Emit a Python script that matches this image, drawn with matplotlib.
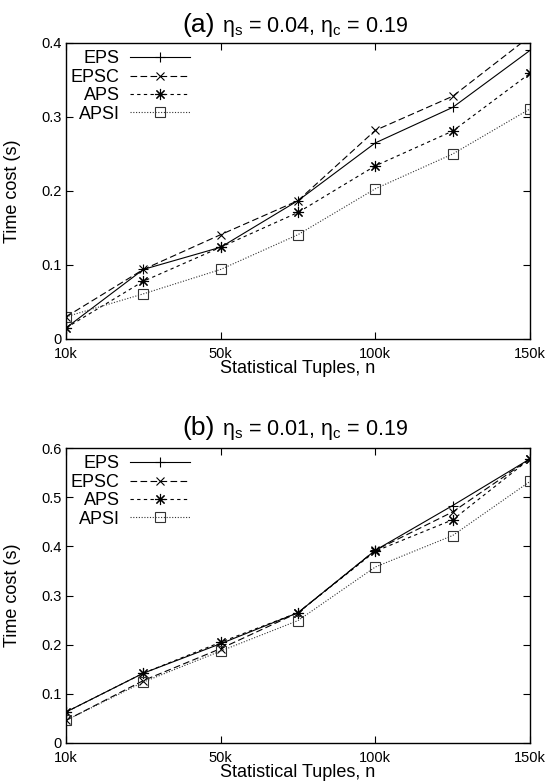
import numpy as np
import matplotlib
matplotlib.use("Agg")
import matplotlib.pyplot as plt
from matplotlib.ticker import FuncFormatter

plt.rcParams["font.family"] = ["Liberation Sans", "DejaVu Sans"]
plt.rcParams["mathtext.fontset"] = "custom"
plt.rcParams["mathtext.rm"] = "Liberation Sans"
plt.rcParams["mathtext.it"] = "Liberation Sans"

# x axis: positions of the measured sizes (first point sits on the "10k" tick)
n_pos = [0, 25, 50, 75, 100, 125, 150]
xtick_pos = [0, 50, 100, 150]
xtick_labels = ["10k", "50k", "100k", "150k"]

series_names = ["EPS", "EPSC", "APS", "APSI"]

# (a) eta_s = 0.04, eta_c = 0.19
eps_a = [0.015, 0.094, 0.124, 0.187, 0.265, 0.313, 0.390]
epsc_a = [0.030, 0.094, 0.141, 0.187, 0.282, 0.328, 0.409]
aps_a = [0.015, 0.078, 0.124, 0.171, 0.234, 0.281, 0.359]
apsi_a = [0.030, 0.061, 0.094, 0.141, 0.203, 0.250, 0.311]

# (b) eta_s = 0.01, eta_c = 0.19
eps_b = [0.063, 0.142, 0.202, 0.265, 0.392, 0.483, 0.578]
epsc_b = [0.046, 0.127, 0.192, 0.265, 0.392, 0.470, 0.578]
aps_b = [0.063, 0.142, 0.205, 0.265, 0.390, 0.454, 0.578]
apsi_b = [0.046, 0.124, 0.187, 0.249, 0.358, 0.422, 0.532]

styles = [
    dict(color="black", linestyle="-", marker="+", markersize=7),
    dict(color="black", linestyle=(0, (6, 3)), marker="x", markersize=6),
    dict(color="black", linestyle=(0, (3, 3)), marker=(8, 2, 0), markersize=8),
    dict(color="#333333", linestyle=(0, (1, 1.5)), marker="s", markersize=6.5,
         fillstyle="none"),
]

W, H = 547, 782
fig = plt.figure(figsize=(W / 100, H / 100), dpi=100)

panels = [
    dict(rect=[66 / W, 1 - 339 / H, 464 / W, 296 / H], data=[eps_a, epsc_a, aps_a, apsi_a],
         ymax=0.4, tag="(a)", rest=r"$\mathrm{\eta_s}$ = 0.04, $\mathrm{\eta_c}$ = 0.19", ty=1.037),
    dict(rect=[66 / W, 1 - 743 / H, 464 / W, 295 / H], data=[eps_b, epsc_b, aps_b, apsi_b],
         ymax=0.6, tag="(b)", rest=r"$\mathrm{\eta_s}$ = 0.01, $\mathrm{\eta_c}$ = 0.19", ty=1.045),
]

for p in panels:
    ax = fig.add_axes(p["rect"])
    for name, vals, st in zip(series_names, p["data"], styles):
        ax.plot(n_pos, vals, label=name, linewidth=0.8, markeredgewidth=0.8, **st)
    ax.set_xlim(0, 150)
    ax.set_ylim(0, p["ymax"])
    ax.set_xticks(xtick_pos)
    ax.set_xticklabels(xtick_labels)
    ax.set_yticks(np.arange(0, p["ymax"] + 0.001, 0.1))
    ax.yaxis.set_major_formatter(FuncFormatter(lambda v, _: "0" if abs(v) < 1e-9 else f"{v:.1f}"))
    ax.tick_params(direction="in", top=True, right=True, length=5, width=0.8,
                   labelsize=10.5, pad=3)
    ax.tick_params(axis="x", pad=6)
    for s in ax.spines.values():
        s.set_linewidth(1.0)
    ax.set_xlabel("Statistical Tuples, n", fontsize=13, labelpad=-1)
    ax.set_ylabel("Time cost (s)", fontsize=13)
    ax.yaxis.set_label_coords(-0.097, 0.5)
    ax.text(0.32, p["ty"], p["tag"], transform=ax.transAxes, ha="right",
            va="baseline", fontsize=19)
    ax.text(0.337, p["ty"], p["rest"], transform=ax.transAxes, ha="left",
            va="baseline", fontsize=15.5)
    ax.legend(loc="upper right", bbox_to_anchor=(0.267, 0.975), frameon=False,
              markerfirst=False, fontsize=13, handlelength=3.3, handletextpad=0.6,
              labelspacing=0.08, borderpad=0, borderaxespad=0)

fig.savefig("out.png", dpi=100)
